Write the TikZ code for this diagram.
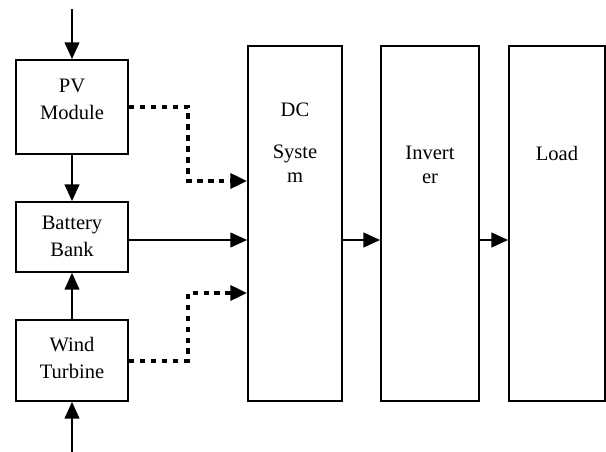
\documentclass[tikz,border=0pt]{standalone}
\usepackage{fontspec}
\setmainfont{Liberation Serif}
\usetikzlibrary{arrows.meta}
\tikzset{
  box/.style={draw, line width=1.3pt, inner sep=0pt},
  txt/.style={inner sep=0pt, align=center, anchor=north, font=\fontsize{15.4}{18}\selectfont},
  flow/.style={line width=1.3pt, -{Triangle[length=12.5pt,width=11pt]}},
  dotflow/.style={line width=3pt, dash pattern=on 4.2pt off 4pt, -{Triangle[length=12.5pt,width=11pt]}}
}
\begin{document}
\begin{tikzpicture}[x=0.75pt,y=-0.75pt, line join=miter]
\useasboundingbox (0,0) rectangle (606,452);
\def\ya{240} \def\yb{181} \def\yc{293} \def\xb{188} % heights of the connectors
% sources
\node[box, minimum width=84pt, minimum height=70.5pt] (pv) at (72,107) {};
\node[box, minimum width=84pt, minimum height=52.5pt] (bat) at (72,237) {};
\node[box, minimum width=84pt, minimum height=60.75pt] (wind) at (72,360.5) {};
\node[txt] (pvt) at (72,79) {PV\\[2pt]Module};
\node[txt] (batt) at (72,216) {Battery\\[2pt]Bank};
\node[txt] (windt) at (72,337) {Wind\\[2pt]Turbine};
% tall blocks
\node[box, minimum width=70.5pt, minimum height=266.25pt] (dc) at (295,223.5) {};
\node[box, minimum width=73.5pt, minimum height=266.25pt] (inv) at (430,223.5) {};
\node[box, minimum width=72pt, minimum height=266.25pt] (load) at (557,223.5) {};
\node[txt] (dct) at (295,103) {DC\\[13pt]Syste\\m};
\node[txt] (invt) at (430,146) {Invert\\er};
\node[txt] (loadt) at (557,146) {Load};
\coordinate (sun) at (72,9);
\coordinate (air) at (72,452);
% connectors
\draw[flow] (sun) -- (pv.north);
\draw[flow] (air) -- (wind.south);
\draw[flow] (pv.south) -- (bat.north);
\draw[flow] (wind.north) -- (bat.south);
\draw[flow] (bat.east |- 0,\ya) -- (dc.west |- 0,\ya);
\draw[flow] (dc.east |- 0,\ya) -- (inv.west |- 0,\ya);
\draw[flow] (inv.east |- 0,\ya) -- (load.west |- 0,\ya);
\draw[dotflow] (pv.east) -| (\xb,\yb) -- (dc.west |- 0,\yb);
\draw[dotflow] (wind.east) -| (\xb,\yc) -- (dc.west |- 0,\yc);
\end{tikzpicture}
\end{document}
